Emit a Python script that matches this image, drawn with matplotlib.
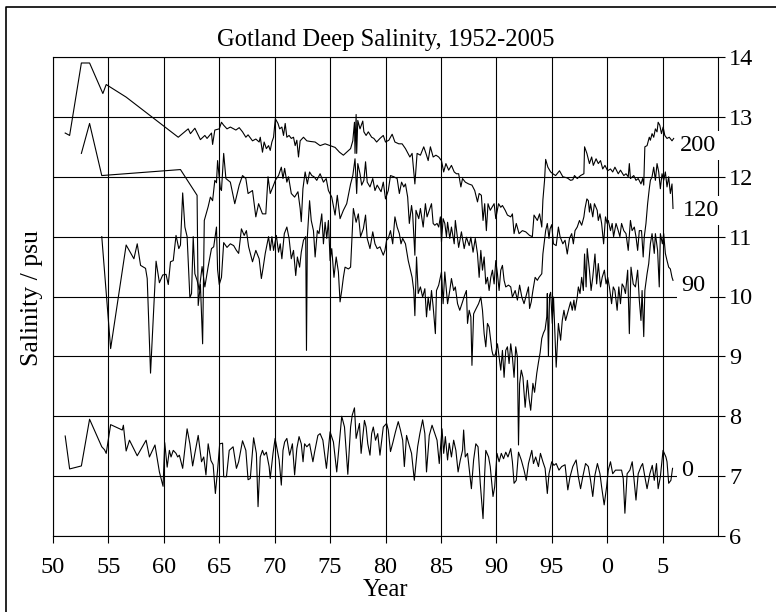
import numpy as np
import matplotlib
matplotlib.use('Agg')
import matplotlib.pyplot as plt
from matplotlib.lines import Line2D

plt.rcParams['font.family'] = ['Liberation Serif', 'DejaVu Serif']

# year (19xx, values above 100 are 20xx) and salinity for each depth (m)
yr200 = [51.1, 51.5, 52.56, 53.3, 54.5, 54.8, 56.6, 61.3, 62.2, 62.4, 62.8, 63.3, 63.7, 63.9, 64.3, 64.4,
         64.6, 65.0, 65.2, 65.4, 65.7, 66.0, 66.5, 66.8, 67.1, 67.4, 67.6, 68.0, 68.3, 68.6, 68.7, 68.9,
         69.05, 69.25, 69.45, 69.6, 69.75, 69.9, 70.06, 70.3, 70.45, 70.65, 70.8, 70.95, 71.1, 71.3, 71.5,
         71.7, 71.85, 72.0, 72.15, 72.3, 72.6, 72.9, 73.2, 73.65, 74.1, 74.55, 75.0, 75.45, 75.85, 76.2,
         76.5, 76.85, 77.05, 77.2, 77.25, 77.35, 77.4, 77.5, 77.7, 77.95, 78.05, 78.25, 78.45, 78.75,
         78.95, 79.2, 79.5, 79.8, 80.0, 80.3, 80.6, 80.85, 81.2, 81.5, 81.8, 82.2, 82.4, 82.65, 82.85,
         83.15, 83.45, 83.65, 83.85, 84.05, 84.3, 84.55, 84.8, 85.05, 85.25, 85.45, 85.7, 85.95, 86.2,
         86.4, 86.6, 86.8, 86.95, 87.2, 87.5, 87.8, 88.05, 88.3, 88.45, 88.65, 88.8, 88.95, 89.1, 89.25,
         89.45, 89.8, 89.95, 90.2, 90.4, 90.55, 90.8, 91.0, 91.3, 91.45, 91.6, 91.8, 92.05, 92.35, 92.65,
         93.0, 93.25, 93.4, 93.7, 93.9, 94.1, 94.2, 94.35, 94.45, 94.65, 94.9, 95.1, 95.35, 95.7, 96.0,
         96.4, 96.7, 96.9, 97.05, 97.3, 97.6, 97.9, 97.96, 98.17, 98.4, 98.6, 98.75, 99.0, 99.2, 99.4,
         99.6, 99.8, 100.04, 100.3, 100.5, 100.7, 101.0, 101.2, 101.5, 101.7, 101.9, 102.0, 102.1,
         102.4, 102.6, 102.8, 103.05, 103.2, 103.3, 103.4, 103.6, 103.8, 103.9, 104.05, 104.2, 104.35,
         104.5, 104.6, 104.75, 104.9, 105.05, 105.2, 105.4, 105.6, 105.85, 106.0]
s200 = [12.73, 12.69, 13.9, 13.9, 13.39, 13.54, 13.33, 12.66, 12.80, 12.72, 12.81, 12.62, 12.69, 12.64,
        12.73, 12.54, 12.78, 12.80, 12.91, 12.86, 12.80, 12.83, 12.78, 12.82, 12.75, 12.66, 12.70, 12.60,
        12.63, 12.58, 12.66, 12.41, 12.58, 12.47, 12.52, 12.44, 12.58, 12.66, 12.97, 12.89, 12.80, 12.83,
        12.69, 12.89, 12.66, 12.69, 12.64, 12.66, 12.52, 12.61, 12.33, 12.60, 12.66, 12.60, 12.59, 12.58,
        12.52, 12.55, 12.52, 12.49, 12.41, 12.36, 12.41, 12.47, 12.60, 12.91, 12.39, 13.04, 12.39, 12.94,
        12.80, 12.93, 12.75, 12.69, 12.75, 12.66, 12.64, 12.58, 12.64, 12.69, 12.58, 12.61, 12.71, 12.58,
        12.55, 12.55, 12.47, 12.33, 12.39, 11.88, 12.39, 12.36, 12.50, 12.39, 12.27, 12.50, 12.33, 12.36,
        12.33, 12.27, 12.08, 12.22, 12.11, 12.19, 12.08, 12.05, 12.05, 11.83, 11.97, 11.91, 11.88, 11.86,
        11.77, 11.58, 11.72, 11.69, 11.27, 11.55, 11.10, 11.55, 11.44, 11.55, 11.30, 11.55, 11.49, 11.52,
        11.44, 11.36, 11.33, 11.38, 11.05, 11.22, 11.05, 11.10, 11.08, 11.02, 11.00, 11.36, 11.27, 11.38,
        11.16, 11.61, 11.94, 12.29, 12.16, 12.08, 12.05, 12.02, 12.10, 12.00, 11.98, 11.94, 11.95, 12.02,
        11.97, 12.02, 12.05, 12.50, 12.39, 12.22, 12.33, 12.19, 12.30, 12.22, 12.27, 12.13, 12.19, 12.10,
        12.13, 12.08, 12.16, 12.05, 12.11, 12.02, 12.05, 12.00, 12.22, 11.97, 12.02, 11.94, 11.97, 11.88,
        11.97, 11.86, 12.50, 12.52, 12.66, 12.61, 12.72, 12.66, 12.80, 12.75, 12.91, 12.86, 12.72, 12.83,
        12.69, 12.64, 12.66, 12.60, 12.64]

yr120 = [52.56, 53.3, 54.4, 61.5, 63.0, 63.1, 63.3, 63.5, 63.65, 64.0, 64.2, 64.4, 64.6, 64.75, 64.85,
         65.1, 65.2, 65.4, 65.6, 66.0, 66.4, 66.8, 67.1, 67.4, 67.6, 68.0, 68.3, 68.55, 68.9, 69.2, 69.4,
         69.6, 69.9, 70.06, 70.35, 70.6, 70.75, 70.9, 71.1, 71.25, 71.5, 71.8, 72.1, 72.3, 72.4, 72.55,
         72.75, 72.95, 73.15, 73.35, 73.55, 73.8, 74.1, 74.4, 74.65, 74.85, 75.15, 75.45, 75.65, 75.9,
         76.2, 76.5, 76.85, 77.05, 77.25, 77.4, 77.5, 77.7, 77.85, 78.05, 78.2, 78.35, 78.6, 78.85, 79.05,
         79.25, 79.6, 79.8, 80.0, 80.25, 80.45, 80.75, 81.05, 81.25, 81.45, 81.65, 81.8, 82.0, 82.15,
         82.35, 82.45, 82.65, 82.75, 83.0, 83.15, 83.4, 83.6, 83.75, 84.0, 84.15, 84.3, 84.45, 84.65,
         84.8, 84.95, 85.05, 85.2, 85.35, 85.5, 85.6, 85.8, 85.95, 86.2, 86.3, 86.45, 86.6, 86.85, 87.1,
         87.3, 87.55, 87.7, 87.9, 88.1, 88.3, 88.45, 88.6, 88.75, 88.9, 89.05, 89.2, 89.35, 89.5, 89.65,
         89.8, 89.95, 90.1, 90.25, 90.4, 90.55, 90.7, 90.85, 91.1, 91.3, 91.45, 91.7, 91.9, 92.1, 92.3,
         92.5, 92.7, 92.9, 93.0, 93.15, 93.3, 93.5, 93.7, 93.85, 94.1, 94.2, 94.35, 94.45, 94.6, 94.75,
         94.85, 95.0, 95.15, 95.4, 95.6, 95.75, 96.0, 96.2, 96.4, 96.6, 96.8, 96.95, 97.1, 97.3, 97.5,
         97.7, 97.9, 98.0, 98.17, 98.3, 98.4, 98.5, 98.7, 98.85, 99.1, 99.2, 99.35, 99.5, 99.68, 99.85,
         100.0, 100.1, 100.3, 100.45, 100.58, 100.8, 101.0, 101.15, 101.3, 101.5, 101.7, 101.9, 102.1,
         102.25, 102.45, 102.6, 102.75, 102.9, 103.1, 103.25, 103.35, 103.5, 103.65, 103.8, 103.9, 104.05,
         104.2, 104.35, 104.5, 104.65, 104.8, 104.95, 105.1, 105.25, 105.4, 105.55, 105.7, 105.85, 105.94]
s120 = [12.39, 12.89, 12.02, 12.12, 11.69, 9.85, 10.2, 9.21, 11.27, 11.5, 11.66, 11.6, 11.94, 11.9, 12.27,
        11.80, 11.77, 12.39, 11.97, 11.91, 11.55, 11.86, 12.02, 11.97, 11.72, 11.77, 11.33, 11.55, 11.38,
        11.38, 12.00, 11.72, 11.86, 11.94, 12.02, 12.16, 11.97, 12.14, 11.91, 12.00, 11.72, 11.66, 11.75,
        11.47, 11.25, 11.80, 12.08, 11.88, 12.08, 12.02, 12.00, 11.94, 12.05, 11.91, 11.97, 11.77, 11.66,
        11.36, 11.69, 11.30, 11.44, 11.55, 11.88, 12.02, 12.30, 11.72, 12.22, 12.05, 11.86, 11.94, 12.25,
        11.91, 11.83, 11.97, 11.77, 11.86, 11.75, 11.91, 11.63, 11.77, 12.02, 12.00, 11.97, 11.72, 11.91,
        11.83, 11.88, 11.66, 11.22, 11.52, 11.38, 10.69, 11.44, 11.30, 11.47, 11.16, 11.55, 11.33, 11.47,
        11.55, 11.22, 11.19, 11.22, 11.16, 11.33, 10.91, 11.30, 11.22, 11.00, 11.24, 10.97, 11.16, 10.88,
        11.27, 11.05, 10.82, 11.08, 10.80, 10.99, 10.85, 10.99, 10.74, 10.97, 10.71, 10.32, 10.77, 10.44,
        10.66, 10.21, 10.32, 10.10, 10.32, 10.44, 10.21, 10.60, 10.38, 10.10, 10.44, 10.52, 10.27, 10.16,
        10.19, 10.16, 9.99, 10.10, 9.94, 10.19, 9.99, 9.88, 10.02, 10.16, 9.80, 9.91, 10.10, 10.32, 10.27,
        10.32, 10.38, 10.71, 10.94, 11.10, 11.22, 10.97, 11.13, 11.20, 10.88, 10.85, 11.16, 11.00, 10.88,
        10.94, 10.71, 10.97, 11.05, 10.88, 11.10, 11.16, 11.27, 11.19, 11.33, 11.47, 11.63, 11.60, 11.41,
        11.55, 11.33, 11.55, 11.44, 11.27, 11.38, 11.22, 10.88, 11.33, 11.22, 11.27, 11.10, 11.22, 11.00,
        11.22, 11.10, 11.00, 11.22, 11.10, 11.05, 10.77, 11.27, 11.10, 11.16, 11.00, 10.77, 11.10, 11.10,
        10.66, 11.00, 11.22, 11.55, 11.80, 11.94, 12.00, 12.16, 11.94, 12.22, 12.08, 11.80, 12.05, 11.94,
        12.08, 11.83, 12.00, 11.72, 11.88, 11.47]

yr90 = [54.4, 55.2, 56.6, 57.3, 57.6, 57.9, 58.35, 58.5, 58.8, 59.3, 59.6, 59.9, 60.2, 60.4, 60.6, 60.85,
        61.1, 61.35, 61.5, 61.7, 61.9, 62.1, 62.35, 62.5, 62.65, 62.8, 63.0, 63.2, 63.45, 63.7, 64.0,
        64.3, 64.5, 64.75, 64.85, 65.0, 65.2, 65.4, 65.7, 66.0, 66.3, 66.55, 66.75, 67.0, 67.25, 67.45,
        67.65, 68.0, 68.3, 68.6, 68.8, 68.95, 69.15, 69.45, 69.6, 69.75, 69.9, 70.15, 70.35, 70.5, 70.65,
        70.87, 71.1, 71.3, 71.5, 71.7, 71.9, 72.05, 72.25, 72.4, 72.6, 72.8, 72.87, 72.95, 73.15, 73.3,
        73.5, 73.65, 73.85, 74.0, 74.25, 74.4, 74.55, 74.7, 74.85, 75.0, 75.15, 75.35, 75.55, 75.75,
        75.9, 76.05, 76.2, 76.35, 76.65, 76.85, 77.1, 77.35, 77.55, 77.75, 78.0, 78.2, 78.35, 78.6,
        78.85, 79.05, 79.25, 79.5, 79.8, 79.95, 80.1, 80.25, 80.45, 80.65, 80.85, 81.05, 81.25, 81.4,
        81.55, 81.8, 82.05, 82.25, 82.4, 82.55, 82.65, 82.8, 82.95, 83.15, 83.35, 83.55, 83.7, 83.85,
        84.0, 84.15, 84.3, 84.5, 84.6, 84.8, 85.05, 85.2, 85.35, 85.5, 85.6, 85.8, 85.95, 86.15, 86.3,
        86.5, 86.7, 86.95, 87.1, 87.3, 87.4, 87.55, 87.7, 87.8, 87.95, 88.1, 88.4, 88.6, 88.75, 88.9,
        89.05, 89.2, 89.35, 89.6, 89.7, 89.9, 90.1, 90.25, 90.4, 90.55, 90.7, 90.85, 91.0, 91.15, 91.3,
        91.45, 91.6, 91.75, 91.9, 92.0, 92.1, 92.25, 92.4, 92.6, 92.8, 92.95, 93.1, 93.3, 93.45, 93.65,
        93.8, 93.95, 94.1, 94.25, 94.4, 94.55, 94.6, 94.7, 94.8, 94.9, 95.05, 95.16, 95.4, 95.6, 95.8,
        95.95, 96.1, 96.25, 96.5, 96.7, 96.85, 97.0, 97.1, 97.3, 97.4, 97.55, 97.7, 97.85, 97.96, 98.1,
        98.2, 98.4, 98.55, 98.7, 98.9, 99.05, 99.2, 99.4, 99.55, 99.75, 99.9, 100.05, 100.2, 100.4,
        100.55, 100.7, 100.9, 101.05, 101.2, 101.35, 101.5, 101.65, 101.85, 102.0, 102.15, 102.35,
        102.55, 102.75, 102.9, 103.05, 103.15, 103.3, 103.4, 103.6, 103.75, 103.9, 104.05, 104.25,
        104.35, 104.55, 104.7, 104.8, 104.98, 105.1, 105.25, 105.4, 105.55, 105.7, 105.85, 105.94]
s90 = [11.0, 9.13, 10.86, 10.63, 10.88, 10.52, 10.47, 10.30, 8.72, 10.59, 10.23, 10.36, 10.37, 10.20, 10.58,
       10.60, 11.02, 10.80, 10.86, 11.73, 11.16, 11.00, 9.98, 10.05, 11.00, 10.38, 10.27, 10.11, 10.5,
       10.16, 10.5, 10.80, 10.83, 11.16, 10.45, 10.20, 10.32, 10.90, 10.82, 10.88, 10.85, 10.77, 10.72,
       11.13, 11.02, 11.10, 10.83, 10.58, 10.77, 10.63, 10.30, 10.47, 10.72, 11.00, 10.77, 11.00, 10.77,
       11.02, 10.74, 10.88, 10.63, 11.05, 11.16, 10.97, 10.63, 10.77, 10.35, 10.66, 10.49, 10.74, 10.94,
       11.00, 9.10, 11.00, 11.60, 11.27, 11.10, 10.66, 11.10, 11.05, 11.38, 10.88, 11.24, 10.97, 11.27,
       10.60, 10.80, 10.32, 10.66, 10.41, 9.91, 10.10, 10.32, 10.49, 10.46, 10.49, 11.47, 11.24, 11.38,
       11.00, 11.13, 11.36, 10.97, 10.80, 11.08, 10.88, 10.80, 10.83, 10.69, 10.77, 10.94, 10.97, 11.10,
       10.88, 11.33, 11.16, 11.05, 10.88, 10.97, 10.88, 10.60, 10.44, 10.32, 10.10, 9.68, 10.66, 10.05,
       10.16, 9.99, 10.13, 9.66, 9.99, 9.77, 10.10, 9.83, 9.38, 10.10, 10.19, 10.41, 9.88, 10.41, 10.10,
       9.88, 10.10, 10.30, 10.10, 10.16, 9.88, 9.77, 9.91, 10.0, 10.10, 9.55, 9.77, 9.66, 8.85, 9.71, 9.77,
       9.88, 9.99, 9.77, 9.38, 9.16, 9.55, 9.49, 9.10, 9.02, 9.02, 9.21, 8.99, 8.77, 9.10, 8.65, 9.10,
       9.16, 8.88, 9.21, 8.99, 8.65, 9.16, 8.99, 7.52, 8.54, 8.77, 8.65, 8.15, 8.6, 8.3, 8.10, 8.55, 8.4,
       8.72, 8.9, 9.06, 9.3, 9.39, 9.45, 9.66, 10.05, 9.00, 10.02, 10.07, 9.55, 9.99, 8.82, 9.55, 9.27,
       9.6, 9.77, 9.6, 9.77, 9.91, 9.77, 9.94, 9.77, 9.99, 10.16, 10.05, 10.32, 10.10, 10.71, 10.16,
       10.80, 10.44, 10.10, 10.32, 10.71, 10.21, 10.55, 10.16, 10.32, 10.44, 10.21, 10.32, 10.16, 9.88,
       10.16, 10.10, 9.77, 10.16, 9.88, 10.21, 10.16, 10.05, 10.44, 9.38, 10.49, 10.21, 10.16, 10.44,
       9.94, 9.60, 10.1, 9.33, 10.1, 10.38, 10.55, 10.88, 11.05, 10.72, 11.05, 10.77, 10.16, 11.05,
       10.88, 11.05, 10.72, 10.60, 10.49, 10.46, 10.32, 10.27]

yr0 = [51.1, 51.5, 52.56, 53.3, 54.4, 54.65, 54.8, 55.2, 56.25, 56.35, 56.6, 56.9, 57.6, 58.4, 58.7, 59.2,
       59.6, 59.93, 60.08, 60.3, 60.5, 60.65, 60.85, 61.1, 61.25, 61.4, 61.7, 62.1, 62.35, 62.6, 62.8,
       63.1, 63.4, 63.6, 63.8, 64.0, 64.25, 64.45, 64.65, 64.85, 65.04, 65.3, 65.4, 65.65, 65.9, 66.25,
       66.55, 66.75, 67.1, 67.4, 67.6, 67.8, 68.1, 68.35, 68.5, 68.7, 68.9, 69.05, 69.25, 69.5, 69.6,
       69.85, 70.04, 70.2, 70.4, 70.6, 70.75, 70.9, 71.1, 71.35, 71.6, 71.8, 72.0, 72.2, 72.4, 72.56,
       72.7, 72.9, 73.15, 73.45, 73.6, 73.9, 74.1, 74.35, 74.67, 75.0, 75.3, 75.6, 76.05, 76.3, 76.6,
       76.85, 77.0, 77.2, 77.35, 77.65, 77.8, 78.1, 78.25, 78.4, 78.6, 78.75, 78.9, 79.1, 79.3, 79.5,
       79.8, 80.1, 80.25, 80.45, 80.65, 80.9, 81.15, 81.35, 81.55, 81.7, 81.9, 82.1, 82.35, 82.6, 82.9,
       83.1, 83.35, 83.55, 83.7, 83.95, 84.2, 84.45, 84.65, 84.85, 85.1, 85.25, 85.4, 85.6, 85.75, 85.95,
       86.15, 86.35, 86.55, 86.75, 86.95, 87.05, 87.2, 87.4, 87.75, 87.95, 88.15, 88.35, 88.55, 88.8,
       88.95, 89.05, 89.3, 89.45, 89.7, 89.85, 90.06, 90.25, 90.45, 90.65, 90.85, 91.05, 91.3, 91.45,
       91.6, 91.8, 92.0, 92.25, 92.5, 92.7, 92.9, 93.2, 93.35, 93.55, 93.8, 93.98, 94.2, 94.4, 94.6,
       94.75, 95.0, 95.2, 95.4, 95.65, 95.9, 96.2, 96.45, 96.65, 96.9, 97.2, 97.4, 97.6, 97.8, 98.05,
       98.3, 98.5, 98.7, 98.9, 99.12, 99.35, 99.5, 99.73, 99.95, 100.1, 100.3, 100.5, 100.75, 101.05,
       101.3, 101.45, 101.6, 101.8, 102.05, 102.26, 102.4, 102.6, 102.8, 103.05, 103.2, 103.4, 103.6,
       103.85, 104.07, 104.25, 104.45, 104.6, 104.8, 105.04, 105.3, 105.4, 105.55, 105.75, 105.9]
s0 = [7.67, 7.12, 7.17, 7.95, 7.49, 7.44, 7.38, 7.86, 7.77, 7.85, 7.42, 7.60, 7.34, 7.60, 7.32, 7.52, 7.07,
      6.83, 7.56, 7.15, 7.43, 7.32, 7.43, 7.38, 7.32, 7.35, 7.13, 7.79, 7.54, 7.17, 7.38, 7.68, 7.24, 7.32,
      7.02, 7.54, 7.26, 7.19, 6.71, 7.10, 7.54, 7.55, 6.99, 6.99, 7.43, 7.49, 7.13, 7.24, 7.59, 7.43, 6.94,
      6.96, 7.64, 7.38, 6.49, 7.32, 7.43, 7.35, 7.40, 7.16, 6.96, 7.38, 7.63, 7.47, 7.27, 6.85, 7.43, 7.57,
      7.63, 7.35, 7.54, 7.02, 7.46, 7.66, 7.54, 7.24, 7.54, 7.49, 7.54, 7.24, 7.40, 7.68, 7.71, 7.60, 7.13,
      7.74, 7.57, 7.07, 8.00, 7.82, 7.03, 7.82, 8.02, 8.14, 7.63, 7.88, 7.38, 7.93, 7.82, 7.54, 7.35, 7.71,
      7.82, 7.60, 7.71, 7.35, 7.82, 7.88, 7.77, 7.41, 7.55, 7.74, 7.91, 7.77, 7.60, 7.16, 7.68, 7.54, 7.38,
      6.93, 7.49, 7.71, 7.94, 7.71, 7.07, 7.68, 7.85, 7.71, 7.60, 7.21, 7.79, 7.38, 7.66, 7.27, 7.55, 7.32,
      7.60, 7.43, 7.07, 7.27, 7.43, 7.77, 7.32, 7.38, 6.79, 7.27, 7.54, 7.49, 6.88, 6.29, 7.04, 7.43, 7.32,
      7.16, 6.66, 6.82, 7.38, 7.24, 7.38, 7.29, 7.40, 7.32, 7.46, 7.24, 6.88, 6.93, 7.40, 7.27, 7.10, 6.93,
      7.21, 7.43, 7.21, 7.32, 7.16, 7.38, 7.24, 7.13, 6.71, 7.04, 7.24, 7.18, 7.21, 7.10, 7.16, 7.19, 6.77,
      6.99, 7.16, 7.27, 6.99, 6.79, 6.99, 7.21, 7.16, 6.93, 6.66, 7.02, 7.21, 7.04, 6.82, 6.52, 6.82, 7.10,
      7.24, 7.04, 7.10, 7.10, 7.10, 6.96, 6.38, 7.04, 7.10, 7.24, 6.99, 6.60, 7.04, 7.16, 7.21, 6.99, 6.79,
      7.04, 7.18, 6.93, 7.21, 6.79, 6.99, 7.43, 7.32, 7.24, 6.88, 6.93, 7.13]

depth_labels = ['200', '120', '90', '0']
label_y = [12.52, 11.44, 10.19, 7.10]
label_x = [106.6, 106.85, 106.7, 106.7]

xticks = list(range(50, 110, 5))
xticklabels = [str(t % 100) for t in xticks]
yticks = list(range(6, 15))

fig = plt.figure(figsize=(7.76, 6.12), dpi=100)
ax = fig.add_axes([53 / 776, 1 - 536 / 612, 665 / 776, 479 / 612])

for yr, s in [(yr200, s200), (yr120, s120), (yr90, s90), (yr0, s0)]:
    ax.plot(yr, s, color='black', lw=0.8, zorder=3)

ax.set_xlim(50, 110)
ax.set_ylim(6, 14)
ax.set_xticks(xticks)
ax.set_xticklabels(xticklabels)
ax.set_yticks(yticks)
ax.yaxis.tick_right()
ax.tick_params(direction='out', length=5, width=0.8, labelsize=17.5, colors='black')
ax.tick_params(axis='x', pad=10)
ax.tick_params(axis='y', pad=3)
ax.grid(True, color='black', lw=0.8)
ax.set_axisbelow(True)
for sp in ax.spines.values():
    sp.set_linewidth(0.8)

for lab, lx, ly in zip(depth_labels, label_x, label_y):
    ax.text(lx, ly, lab, fontsize=17.5, ha='left', va='center', zorder=6, clip_on=False,
            bbox=dict(facecolor='white', edgecolor='none', pad=3))

ax.set_title('Gotland Deep Salinity, 1952-2005', fontsize=17.7, pad=8)
ax.set_xlabel('Year', fontsize=17.7, labelpad=1)
fig.text(32 / 776, 1 - 298 / 612, 'Salinity / psu', fontsize=18.5, rotation=90, ha='center', va='center')

# outer frame (left and top edges)
fig.add_artist(Line2D([6 / 776, 6 / 776, 1], [0, 1 - 7 / 612, 1 - 7 / 612], color='black', lw=1.2,
                      transform=fig.transFigure))

fig.savefig('out.png', dpi=100)
